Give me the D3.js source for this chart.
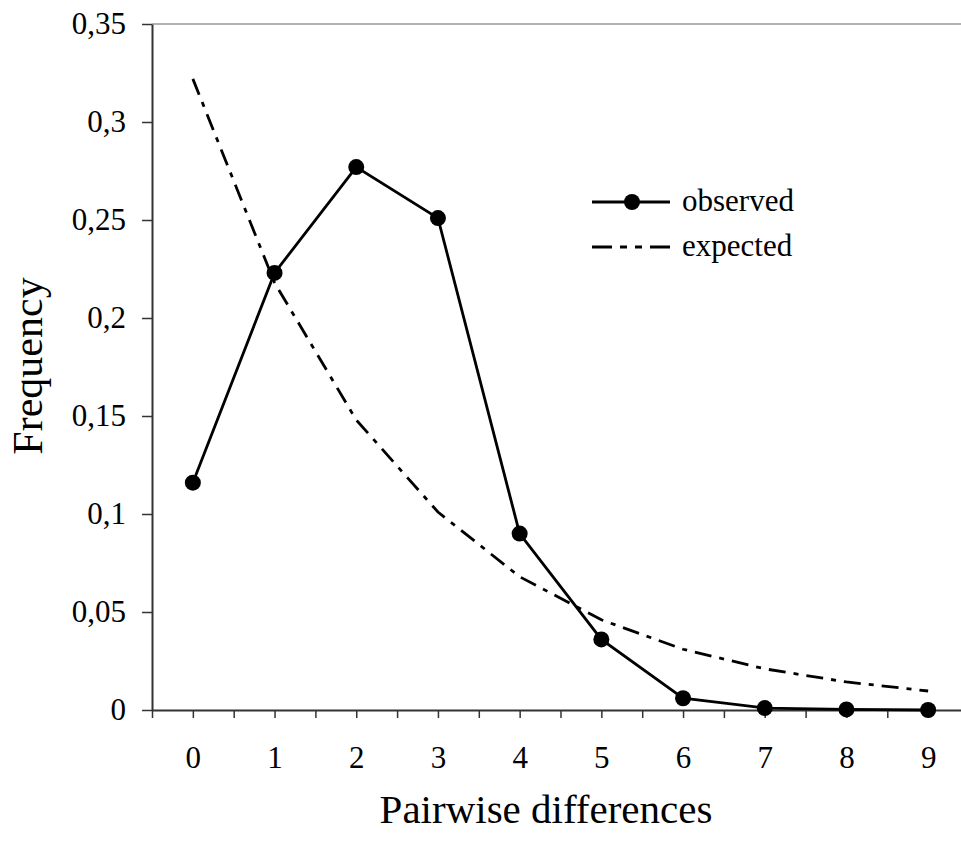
<!DOCTYPE html>
<html>
<head>
<meta charset="utf-8">
<script src="https://cdn.jsdelivr.net/npm/d3@7"></script>
<style>
  body { margin: 0; background: #fff; }
  svg text { font-family: "Liberation Serif", "Times New Roman", serif; fill: #000; }
</style>
</head>
<body>
<svg id="chart" width="961" height="843"></svg>
<script>
// pairwise differences (mismatch classes)
var differences = [0, 1, 2, 3, 4, 5, 6, 7, 8, 9];
var observed = [0.116, 0.223, 0.277, 0.251, 0.090, 0.036, 0.006, 0.001, 0.0003, 0.0];
var expected = [0.322, 0.218, 0.148, 0.101, 0.068, 0.046, 0.031, 0.021, 0.0143, 0.0097];
var yTicks = [0, 0.05, 0.1, 0.15, 0.2, 0.25, 0.3, 0.35];
var yTickLabels = ["0", "0,05", "0,1", "0,15", "0,2", "0,25", "0,3", "0,35"];

var svg = d3.select("#chart");

var plotLeft = 152, plotRight = 969, plotTop = 24, plotBottom = 710;

var xScale = d3.scaleLinear().domain([-0.5, 9.5]).range([plotLeft, plotRight]);
var yScale = d3.scaleLinear().domain([0, 0.35]).range([plotBottom, plotTop]);

// top border of plot area
svg.append("line")
  .attr("x1", plotLeft).attr("x2", plotRight)
  .attr("y1", yScale(0.35)).attr("y2", yScale(0.35))
  .attr("stroke", "#999").attr("stroke-width", 1.5);

// x axis: tick marks every half step
var halfSteps = d3.range(-0.5, 9.51, 0.5);
var xAxis = svg.append("g")
  .attr("transform", `translate(0, ${plotBottom})`)
  .call(d3.axisBottom(xScale).tickValues(halfSteps).tickFormat("").tickSizeOuter(0).tickSizeInner(8));

// x labels
var xLabels = svg.append("g")
  .attr("transform", `translate(0, ${plotBottom})`)
  .call(d3.axisBottom(xScale).tickValues(differences).tickFormat(d => d).tickSize(0).tickPadding(36));
xLabels.select(".domain").remove();

// y axis
var yAxis = svg.append("g")
  .attr("transform", `translate(${plotLeft}, 0)`)
  .call(d3.axisLeft(yScale).tickValues(yTicks)
    .tickFormat((d, i) => yTickLabels[i]).tickSizeOuter(0).tickSizeInner(10).tickPadding(16));

[xAxis, xLabels, yAxis].forEach(function(g) {
  g.attr("font-size", 31).attr("font-family", "Liberation Serif, serif");
  g.selectAll("line").attr("stroke", "#333").attr("stroke-width", 1.5);
  g.select(".domain").attr("stroke", "#333").attr("stroke-width", 2);
});

// expected line
var lineGen = d3.line()
  .x((d, i) => xScale(differences[i]))
  .y(d => yScale(d));

svg.append("path")
  .datum(expected)
  .attr("d", lineGen)
  .attr("fill", "none")
  .attr("stroke", "#000")
  .attr("stroke-width", 2.8)
  .attr("stroke-dasharray", "17,8,5,8");

// observed line
svg.append("path")
  .datum(observed)
  .attr("d", lineGen)
  .attr("fill", "none")
  .attr("stroke", "#000")
  .attr("stroke-width", 2.8);

svg.selectAll("circle.obs")
  .data(observed)
  .enter()
  .append("circle")
  .attr("class", "obs")
  .attr("cx", (d, i) => xScale(differences[i]))
  .attr("cy", d => yScale(d))
  .attr("r", 8)
  .attr("fill", "#000");

// legend
var legend = svg.append("g");
legend.append("line")
  .attr("x1", 592).attr("x2", 670).attr("y1", 202).attr("y2", 202)
  .attr("stroke", "#000").attr("stroke-width", 2.8);
legend.append("circle")
  .attr("cx", 632).attr("cy", 202).attr("r", 8).attr("fill", "#000");
legend.append("text")
  .attr("x", 682).attr("y", 211)
  .style("font-size", "31px")
  .text("observed");

legend.append("line")
  .attr("x1", 592).attr("x2", 670).attr("y1", 247).attr("y2", 247)
  .attr("stroke", "#000").attr("stroke-width", 2.8)
  .attr("stroke-dasharray", "20,8,7,8,7,8");
legend.append("text")
  .attr("x", 682).attr("y", 256)
  .style("font-size", "31px")
  .text("expected");

// axis titles
svg.append("text")
  .attr("x", 546).attr("y", 823)
  .attr("text-anchor", "middle")
  .style("font-size", "41px")
  .text("Pairwise differences");

svg.append("text")
  .attr("transform", "translate(42, 366) rotate(-90)")
  .attr("text-anchor", "middle")
  .style("font-size", "42px")
  .text("Frequency");
</script>
</body>
</html>
